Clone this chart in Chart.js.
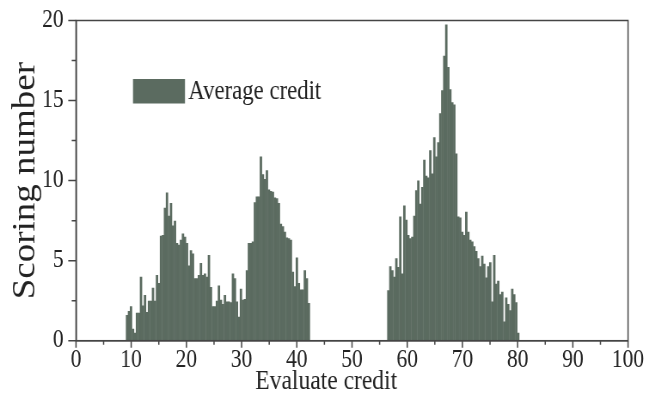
<!DOCTYPE html>
<html>
<head>
<meta charset="utf-8">
<script src="https://cdn.jsdelivr.net/npm/chart.js@4/dist/chart.umd.min.js"></script>
<style>
  html, body { margin: 0; padding: 0; background: #ffffff; overflow: hidden; }
  /* the figure is typeset on a wider sheet and condensed horizontally */
  #wrap { width: 755px; height: 396px; transform: scaleX(0.8596); transform-origin: 0 0; }
</style>
</head>
<body>
<div id="wrap"><canvas id="c" width="755" height="396"></canvas></div>
<script>
// Histogram of evaluation credits: two runs of narrow bins.
const binWidth = 0.362;
const clusterAStart = 9.06;
const clusterBStart = 56.4;

const countsA = [
  1.6, 1.85, 2.15, 0.75, 0.5, 1.75, 1.75, 4.0, 2.2, 2.85,
  1.8, 2.5, 2.5, 3.3, 2.5, 4.1, 3.6, 6.55, 6.6, 8.3,
  9.25, 7.8, 8.6, 7.2, 7.5, 6.1, 6.0, 6.3, 6.7, 6.5,
  6.1, 4.7, 5.65, 5.45, 3.9, 3.9, 4.1, 4.85, 4.1, 4.2,
  4.0, 5.35, 3.35, 2.15, 2.15, 2.5, 3.45, 2.55, 2.3, 2.85,
  2.45, 2.45, 2.4, 4.2, 3.9, 2.45, 1.5, 3.25, 2.55, 2.6,
  4.4, 6.1, 6.1, 6.2, 8.65, 9.0, 9.0, 11.5, 10.4, 10.1,
  10.65, 9.45, 9.35, 9.3, 8.95, 8.9, 8.6, 7.3, 7.15, 6.8,
  6.45, 6.4, 6.3, 4.3, 3.4, 5.2, 3.6, 3.2, 3.2, 4.4,
  3.9, 2.35
];

const countsB = [
  3.15, 4.65, 4.4, 4.0, 5.15, 4.6, 7.75, 4.2, 8.45, 7.55,
  6.6, 6.4, 6.5, 7.8, 9.4, 10.0, 8.55, 9.6, 11.3, 10.3,
  10.2, 11.9, 10.45, 12.7, 11.5, 12.4, 14.2, 15.65, 17.8, 19.75,
  17.1, 15.7, 14.9, 14.75, 11.7, 7.75, 7.7, 6.8, 6.6, 8.05,
  6.8, 6.3, 6.2, 5.9, 5.6, 5.15, 4.65, 5.3, 4.8, 3.95,
  4.65, 4.9, 2.45, 5.35, 3.55, 3.75, 2.9, 3.05, 1.2, 2.7,
  2.3, 1.9, 3.25, 2.9, 2.4, 0.5
];

const xTickLabels = [0, 10, 20, 30, 40, 50, 60, 70, 80, 90, 100];
const yTickLabels = [0, 5, 10, 15, 20];

const seriesName = 'Average credit';
const xTitle = 'Evaluate credit';
const yTitle = 'Scoring number';
const barColor = '#5b6b60';
const axisColor = '#454545';
const textColor = '#222222';
const serif = '"Liberation Serif", "Times New Roman", serif';

function toPoints(start, counts) {
  return counts.map((v, i) => ({ x: start + (i + 0.5) * binWidth, y: v }));
}
const points = toPoints(clusterAStart, countsA).concat(toPoints(clusterBStart, countsB));

// Tick marks (major + minor), closed frame and x-axis caption
const framePlugin = {
  id: 'frame',
  afterDraw(chart) {
    const { ctx, chartArea: a, scales: { x, y } } = chart;
    ctx.save();
    ctx.strokeStyle = axisColor;
    ctx.lineWidth = 1.5;
    ctx.beginPath();
    x.ticks.forEach(t => {
      const px = x.getPixelForValue(t.value);
      const len = xTickLabels.includes(t.value) ? 7 : 4;
      ctx.moveTo(px, a.bottom);
      ctx.lineTo(px, a.bottom + len);
    });
    y.ticks.forEach(t => {
      const py = y.getPixelForValue(t.value);
      const len = yTickLabels.includes(t.value) ? 9 : 5;
      ctx.moveTo(a.left, py);
      ctx.lineTo(a.left - len, py);
    });
    ctx.stroke();
    ctx.strokeRect(a.left, a.top, a.right - a.left, a.bottom - a.top);

    ctx.fillStyle = textColor;
    ctx.font = '27.4px ' + serif;
    ctx.textAlign = 'center';
    ctx.textBaseline = 'middle';
    ctx.fillText(xTitle, 379.5, 382);
    ctx.restore();
  }
};

// Legend drawn inside the plot area
const insideLegend = {
  id: 'insideLegend',
  afterDraw(chart) {
    const { ctx } = chart;
    ctx.save();
    ctx.fillStyle = barColor;
    ctx.fillRect(154.7, 79, 60.5, 24.5);
    ctx.fillStyle = textColor;
    ctx.font = '26.5px ' + serif;
    ctx.textBaseline = 'middle';
    ctx.textAlign = 'left';
    ctx.fillText(chart.data.datasets[0].label, 219, 92);
    ctx.restore();
  }
};

new Chart(document.getElementById('c'), {
  type: 'bar',
  data: {
    datasets: [{
      label: seriesName,
      data: points,
      backgroundColor: barColor,
      borderWidth: 0,
      barPercentage: 1.2,
      categoryPercentage: 1
    }]
  },
  options: {
    responsive: false,
    devicePixelRatio: 1,
    animation: false,
    layout: { padding: { left: 0, top: 20, right: 24.4, bottom: 0 } },
    plugins: { legend: { display: false }, tooltip: { enabled: false } },
    scales: {
      x: {
        type: 'linear',
        offset: false,
        min: 0, max: 100,
        afterFit(s) { s.height = 55.3; },
        border: { display: true, color: axisColor, width: 1.5 },
        grid: { display: true, offset: false, drawOnChartArea: false, drawTicks: true, tickLength: 7, tickColor: 'rgba(0,0,0,0)' },
        ticks: {
          stepSize: 5, autoSkip: false, maxRotation: 0, padding: -2,
          color: textColor, font: { family: serif, size: 25 },
          callback: v => (xTickLabels.includes(v) ? String(v) : '')
        },
        title: { display: false }
      },
      y: {
        type: 'linear',
        min: 0, max: 20,
        afterFit(s) { s.width = 88.4; },
        border: { display: true, color: axisColor, width: 1.5 },
        grid: { display: true, drawOnChartArea: false, drawTicks: true, tickLength: 9, tickColor: 'rgba(0,0,0,0)' },
        ticks: {
          stepSize: 2.5, autoSkip: false, padding: 5.5,
          color: textColor, font: { family: serif, size: 25 },
          callback: v => (yTickLabels.includes(v) ? String(v) : '')
        },
        title: {
          display: true, text: yTitle, color: textColor,
          font: { family: serif, size: 37, lineHeight: 1 },
          padding: { top: 11.5, bottom: 0 }
        }
      }
    }
  },
  plugins: [framePlugin, insideLegend]
});
</script>
</body>
</html>
